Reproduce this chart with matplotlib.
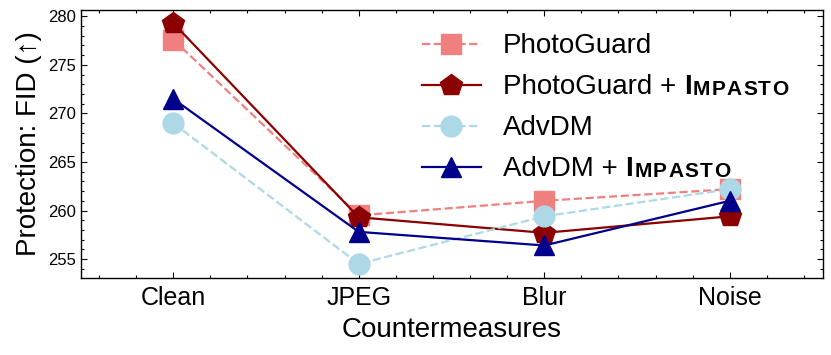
import numpy as np
import matplotlib
matplotlib.use('Agg')
import matplotlib.pyplot as plt
from matplotlib.ticker import MultipleLocator

plt.rcParams['font.family'] = ['Liberation Sans', 'DejaVu Sans']

# data
categories = ['Clean', 'JPEG', 'Blur', 'Noise']
photoguard = [277.6, 259.5, 261.0, 262.2]
photoguard_impasto = [279.3, 259.3, 257.7, 259.4]
advdm = [269.0, 254.5, 259.4, 262.2]
advdm_impasto = [271.5, 257.8, 256.4, 261.0]

x = np.arange(len(categories))

fig = plt.figure(figsize=(8.31, 3.55), dpi=100)
ax = fig.add_subplot(1, 1, 1)
fig.subplots_adjust(left=80.5/831, right=822.5/831, bottom=1-278/355, top=1-9.5/355)

ax.plot(x, photoguard, '--', color='lightcoral', marker='s', markersize=14, lw=1.6, label='PhotoGuard')
ax.plot(x, photoguard_impasto, '-', color='darkred', marker='p', markersize=16, lw=1.6, label='PhotoGuard +')
ax.plot(x, advdm, '--', color='lightblue', marker='o', markersize=15, lw=1.6, label='AdvDM')
ax.plot(x, advdm_impasto, '-', color='darkblue', marker='^', markersize=15, lw=1.6, label='AdvDM +')

ax.set_xlim(-0.5, 3.5)
ax.set_ylim(253.05, 280.7)
ax.set_xticks(x)
ax.set_xticklabels(categories, fontsize=18)
ax.xaxis.set_minor_locator(MultipleLocator(0.2))
ax.yaxis.set_major_locator(MultipleLocator(5))
ax.yaxis.set_minor_locator(MultipleLocator(1))
ax.tick_params(which='both', direction='in', top=True, right=True, width=0.8)
ax.tick_params(which='major', length=4)
ax.tick_params(which='minor', length=2.2)
ax.tick_params(axis='y', labelsize=12)
ax.tick_params(axis='x', pad=6)
for s in ax.spines.values():
    s.set_linewidth(1.0)

ax.set_xlabel('Countermeasures', fontsize=20, labelpad=5)
ax.set_ylabel('Protection: FID (\u2191)', fontsize=20, labelpad=4)

leg = ax.legend(loc='upper left', bbox_to_anchor=(0.46, 0.911), frameon=False,
                fontsize=20, handlelength=2.12, handletextpad=0.8, labelspacing=0.54,
                borderpad=0, borderaxespad=0)

# bold small-caps "Impasto" after the "+" labels (drawn after the legend)
for txt in [leg.get_texts()[1], leg.get_texts()[3]]:
    prev = ax.annotate('I', xy=(1, 0), xycoords=txt, xytext=(5.5, 0), textcoords='offset points',
                       fontsize=20, fontweight='bold', ha='left', va='bottom', zorder=6)
    dy = 1.0
    for i, ch in enumerate('MPASTO'):
        prev = ax.annotate(ch, xy=(1, 0), xycoords=prev, xytext=(0.9, dy), textcoords='offset points',
                           fontsize=15, fontweight='bold', ha='left', va='bottom', zorder=7 + i)
        dy = 0

fig.savefig('out.png', dpi=100)
